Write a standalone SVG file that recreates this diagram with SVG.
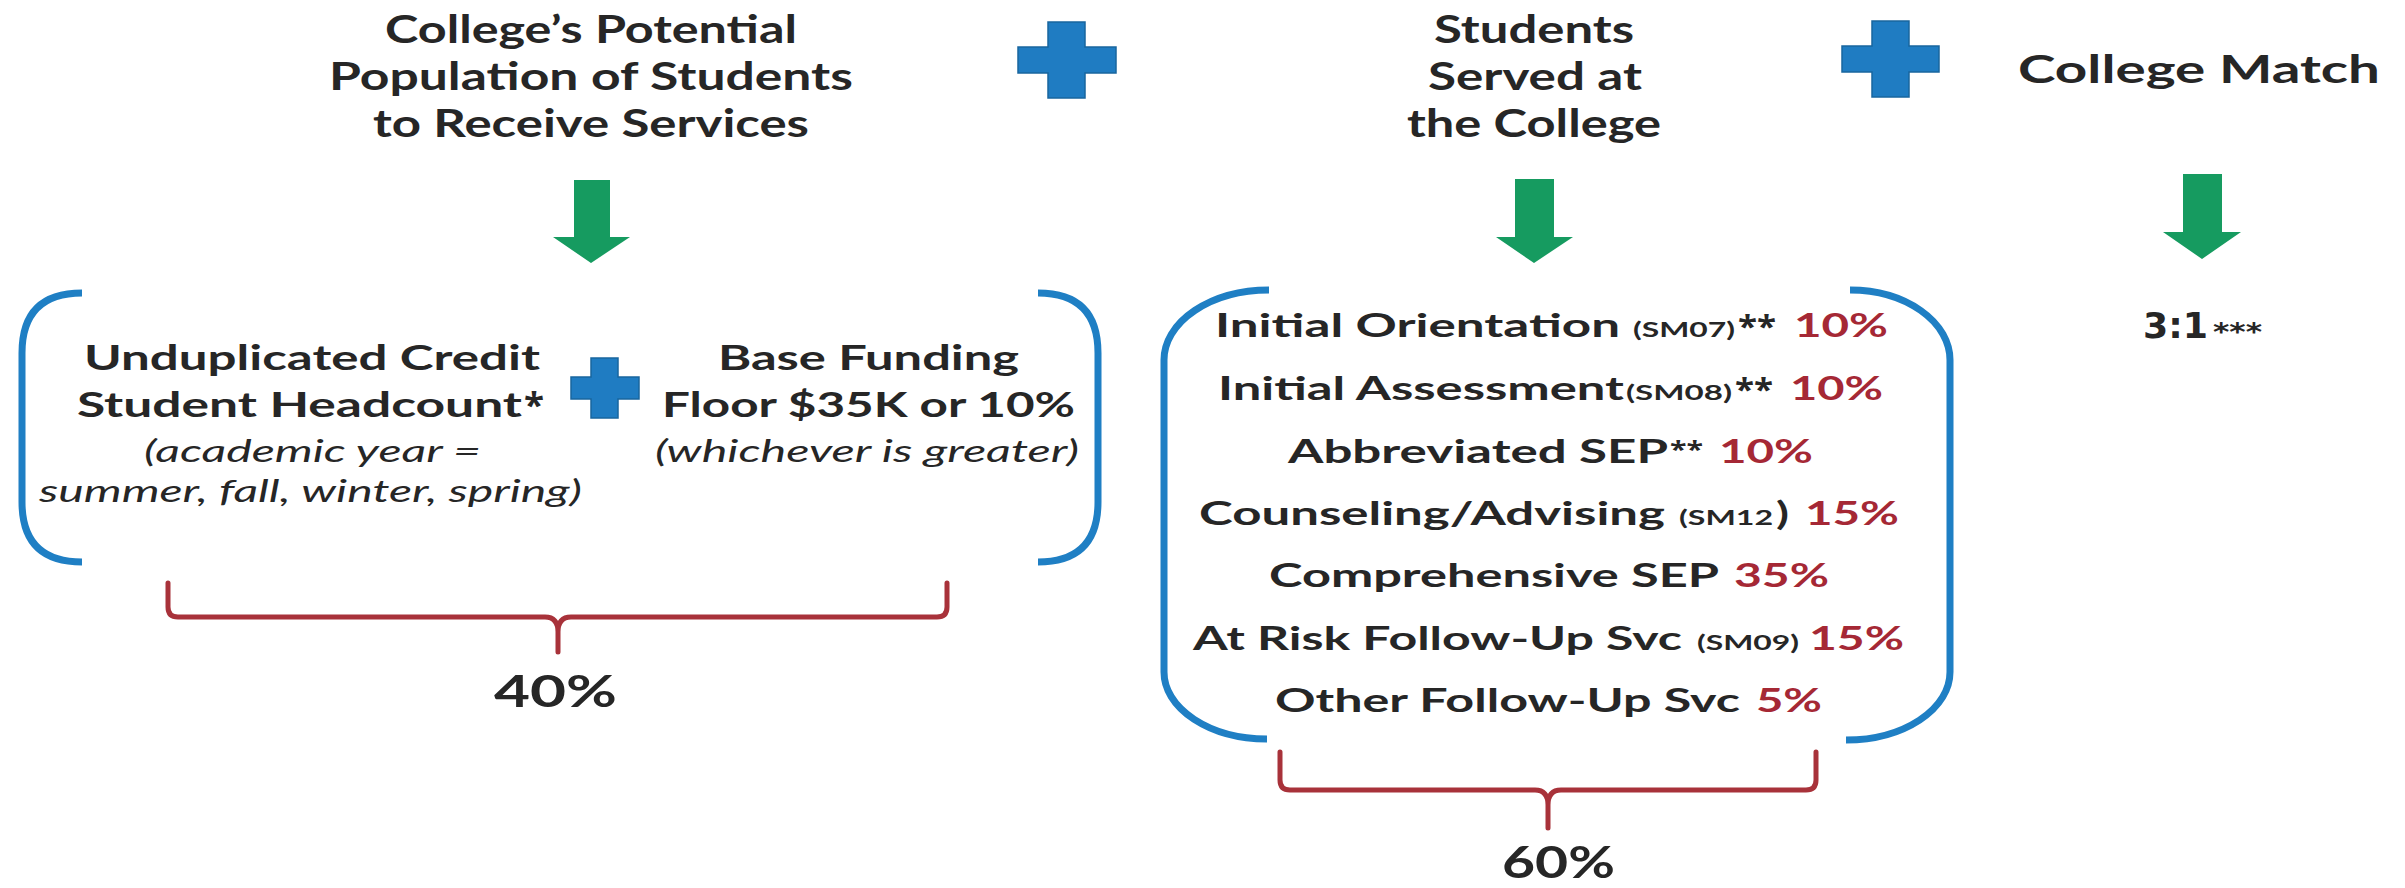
<svg xmlns="http://www.w3.org/2000/svg" width="2405" height="888" viewBox="0 0 2405 888">
<style>
  .t { font-family: Lato, "Open Sans", "Liberation Sans", sans-serif; font-weight: 700; fill: #262626; }
  .title { font-size: 39px; }
  .lb { font-size: 35px; }
  .it { font-family: Lato, "Open Sans", "Liberation Sans", sans-serif; font-style: italic; font-weight: 400; font-size: 31px; fill: #262626; }
  .li { font-size: 32px; }
  .sm { font-size: 20px; }
  .ast { font-family: "Open Sans", "Liberation Sans", sans-serif; font-weight: 700; fill: #262626; }
  .red { fill: #a52835; }
  .pct { font-size: 44px; }
  .dv { font-family: "DejaVu Sans", Verdana, sans-serif; font-weight: 700; fill: #262626; }
  .plus { fill: #1f7cc2; stroke: #18659f; stroke-width: 1.5; }
  .blue { fill: none; stroke: #1f7fc4; stroke-width: 7; stroke-linecap: butt; }
  .brace { fill: none; stroke: #a8323a; stroke-width: 5; stroke-linejoin: round; stroke-linecap: round; }
  .arrow { fill: #169b60; }
</style>

<g id="title-potential">
  <text class="t title" x="385" y="43" textLength="412" lengthAdjust="spacingAndGlyphs">College’s Potential</text>
  <text class="t title" x="329" y="90" textLength="524" lengthAdjust="spacingAndGlyphs">Population of Students</text>
  <text class="t title" x="373" y="137" textLength="436" lengthAdjust="spacingAndGlyphs">to Receive Services</text>
</g>

<g id="plus-1">
  <path class="plus" d="M1048 22 H1085 V47 H1116 V73 H1085 V98 H1048 V73 H1018 V47 H1048 Z"/>
</g>

<g id="title-served">
  <text class="t title" x="1434" y="43" textLength="200" lengthAdjust="spacingAndGlyphs">Students</text>
  <text class="t title" x="1428" y="90" textLength="214" lengthAdjust="spacingAndGlyphs">Served at</text>
  <text class="t title" x="1407" y="137" textLength="254" lengthAdjust="spacingAndGlyphs">the College</text>
</g>

<g id="plus-2">
  <path class="plus" d="M1872 21 H1909 V46 H1939 V72 H1909 V97 H1872 V72 H1842 V46 H1872 Z"/>
</g>

<g id="title-match">
  <text class="t title" x="2018" y="83" textLength="362" lengthAdjust="spacingAndGlyphs">College Match</text>
</g>

<g id="connectors">
  <polygon class="arrow" points="574,180 610,180 610,237 630,237 591,263 553,237 574,237"/>
  <polygon class="arrow" points="1515,179 1554,179 1554,237 1573,237 1534,263 1496,237 1515,237"/>
  <polygon class="arrow" points="2183,174 2222,174 2222,232 2241,232 2202,259 2163,232 2183,232"/>
</g>

<g id="node-population">
  <path class="blue" d="M82 293 Q22 293 22 353 V502 Q22 562 82 562"/>
  <path class="blue" d="M1038 293 Q1098 293 1098 353 V502 Q1098 562 1038 562"/>
  <text class="t lb" x="84" y="370" textLength="456" lengthAdjust="spacingAndGlyphs">Unduplicated Credit</text>
  <text class="t lb" x="77" y="417" textLength="445" lengthAdjust="spacingAndGlyphs">Student Headcount</text>
  <text class="ast" x="524" y="417" font-size="34" textLength="20" lengthAdjust="spacingAndGlyphs">*</text>
  <text class="it" x="144" y="462" textLength="337" lengthAdjust="spacingAndGlyphs">(academic year =</text>
  <text class="it" x="39" y="502" textLength="543" lengthAdjust="spacingAndGlyphs">summer, fall, winter, spring)</text>
  <path class="plus" d="M591 358 H618 V377 H639 V399 H618 V418 H591 V399 H571 V377 H591 Z"/>
  <text class="t lb" x="718" y="370" textLength="301" lengthAdjust="spacingAndGlyphs">Base Funding</text>
  <text class="t lb" x="662" y="417" textLength="413" lengthAdjust="spacingAndGlyphs">Floor $35K or 10%</text>
  <text class="it" x="655" y="462" textLength="424" lengthAdjust="spacingAndGlyphs">(whichever is greater)</text>
</g>

<g id="brace-40">
  <path class="brace" d="M168 583 V607 Q168 617 178 617 H545 Q558 617 558 632 V652 M558 632 Q558 617 571 617 H937 Q947 617 947 607 V583"/>
  <text class="t pct" x="494" y="707" textLength="123" lengthAdjust="spacingAndGlyphs">40%</text>
</g>

<g id="node-served">
  <path class="blue" d="M1269 290 A105 70 0 0 0 1164 360 V672 A103 67 0 0 0 1267 739"/>
  <path class="blue" d="M1850 290 A100 70 0 0 1 1950 360 V672 A104 68 0 0 1 1846 740"/>

  <text class="t li" x="1215" y="337" textLength="405" lengthAdjust="spacingAndGlyphs">Initial Orientation</text>
  <text class="t sm" x="1633" y="337" textLength="102" lengthAdjust="spacingAndGlyphs">(SM07)</text>
  <text class="ast" x="1738" y="337" font-size="30" textLength="38" lengthAdjust="spacingAndGlyphs">**</text>
  <text class="t li red" x="1794" y="337" textLength="94" lengthAdjust="spacingAndGlyphs">10%</text>

  <text class="t li" x="1218" y="400" textLength="406" lengthAdjust="spacingAndGlyphs">Initial Assessment</text>
  <text class="t sm" x="1626" y="400" textLength="106" lengthAdjust="spacingAndGlyphs">(SM08)</text>
  <text class="ast" x="1735" y="400" font-size="30" textLength="38" lengthAdjust="spacingAndGlyphs">**</text>
  <text class="t li red" x="1790" y="400" textLength="93" lengthAdjust="spacingAndGlyphs">10%</text>

  <text class="t li" x="1288" y="463" textLength="380" lengthAdjust="spacingAndGlyphs">Abbreviated SEP</text>
  <text class="ast" x="1670" y="458" font-size="24" textLength="33" lengthAdjust="spacingAndGlyphs">**</text>
  <text class="t li red" x="1719" y="463" textLength="94" lengthAdjust="spacingAndGlyphs">10%</text>

  <text class="t li" x="1199" y="525" textLength="466" lengthAdjust="spacingAndGlyphs">Counseling/Advising</text>
  <text class="t sm" x="1679" y="525" textLength="94" lengthAdjust="spacingAndGlyphs">(SM12</text>
  <text class="t li" x="1776" y="525" textLength="13" lengthAdjust="spacingAndGlyphs">)</text>
  <text class="t li red" x="1805" y="525" textLength="94" lengthAdjust="spacingAndGlyphs">15%</text>

  <text class="t li" x="1269" y="587" textLength="450" lengthAdjust="spacingAndGlyphs">Comprehensive SEP</text>
  <text class="t li red" x="1734" y="587" textLength="95" lengthAdjust="spacingAndGlyphs">35%</text>

  <text class="t li" x="1193" y="650" textLength="489" lengthAdjust="spacingAndGlyphs">At Risk Follow-Up Svc</text>
  <text class="t sm" x="1697" y="650" textLength="102" lengthAdjust="spacingAndGlyphs">(SM09)</text>
  <text class="t li red" x="1809" y="650" textLength="95" lengthAdjust="spacingAndGlyphs">15%</text>

  <text class="t li" x="1275" y="712" textLength="465" lengthAdjust="spacingAndGlyphs">Other Follow-Up Svc</text>
  <text class="t li red" x="1756" y="712" textLength="66" lengthAdjust="spacingAndGlyphs">5%</text>
</g>

<g id="brace-60">
  <path class="brace" d="M1280 752 V780 Q1280 790 1290 790 H1535 Q1548 790 1548 805 V828 M1548 805 Q1548 790 1561 790 H1806 Q1816 790 1816 780 V752"/>
  <text class="t pct" x="1502" y="878" textLength="113" lengthAdjust="spacingAndGlyphs">60%</text>
</g>

<g id="node-match">
  <text class="dv" x="2143" y="338" font-size="36" textLength="65" lengthAdjust="spacingAndGlyphs">3:1</text>
  <text class="dv" x="2213" y="340" font-size="24" textLength="49" lengthAdjust="spacingAndGlyphs">***</text>
</g>
</svg>
